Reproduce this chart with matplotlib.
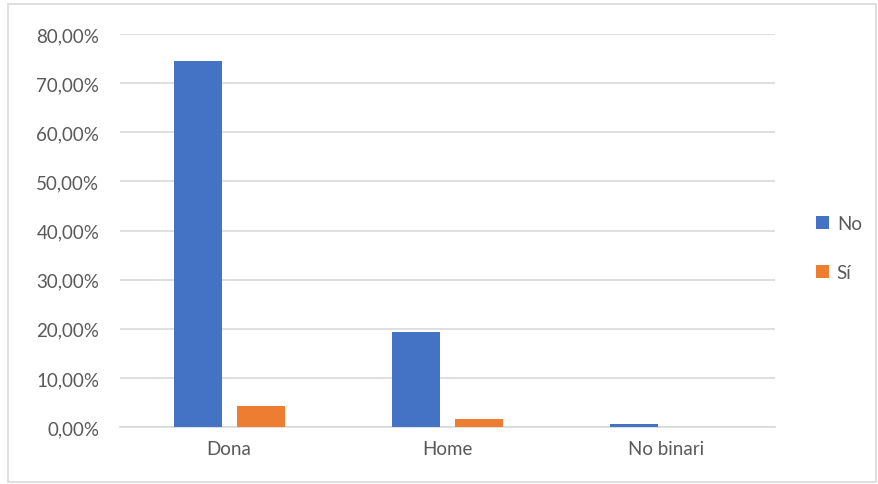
import numpy as np
import matplotlib
matplotlib.use("Agg")
import matplotlib.pyplot as plt
from matplotlib.patches import Rectangle

# dades
categories = ["Dona", "Home", "No binari"]
no_vals = [0.745, 0.193, 0.006]
si_vals = [0.043, 0.016, 0.0]
yticks = [0.0, 0.1, 0.2, 0.3, 0.4, 0.5, 0.6, 0.7, 0.8]

plt.rcParams['font.family'] = ['Lato', 'DejaVu Sans']
txt = '#595959'

fig = plt.figure(figsize=(8.79, 4.85), dpi=100)
ax = fig.add_axes([0.1365, 0.1175, 0.7452, 0.8103])

x = np.arange(len(categories))
w = 0.22
ax.bar(x - 0.144, no_vals, w, color='#4472C4', label='No', zorder=3)
ax.bar(x + 0.144, si_vals, w, color='#ED7D31', label='Sí', zorder=3)

ax.set_xlim(-0.5, 2.5)
ax.set_ylim(0, 0.8)
ax.set_yticks(yticks)
ax.set_yticklabels([f"{v*100:.2f}%".replace('.', ',') for v in yticks])
ax.set_xticks(x)
ax.set_xticklabels(categories)
ax.tick_params(axis='both', length=0, labelsize=13.5, colors=txt)
ax.tick_params(axis='y', pad=15)
ax.tick_params(axis='x', pad=9)
ax.yaxis.grid(True, color='#D9D9D9', linewidth=1.2, zorder=0)
for s in ['top', 'right', 'left']:
    ax.spines[s].set_visible(False)
ax.spines['bottom'].set_color('#D9D9D9')
ax.spines['bottom'].set_linewidth(1.2)

leg = ax.legend(loc='center left', bbox_to_anchor=(1.037, 0.455), frameon=False,
                fontsize=13.5, handlelength=0.7, handleheight=0.7,
                handletextpad=0.4, labelspacing=1.7)
for t in leg.get_texts():
    t.set_color(txt)

# marc exterior
fig.patches.append(Rectangle((0.009, 0.004), 0.988, 0.986, transform=fig.transFigure,
                             fill=False, edgecolor='#D9D9D9', linewidth=1.2))

fig.savefig('out.png', dpi=100)
